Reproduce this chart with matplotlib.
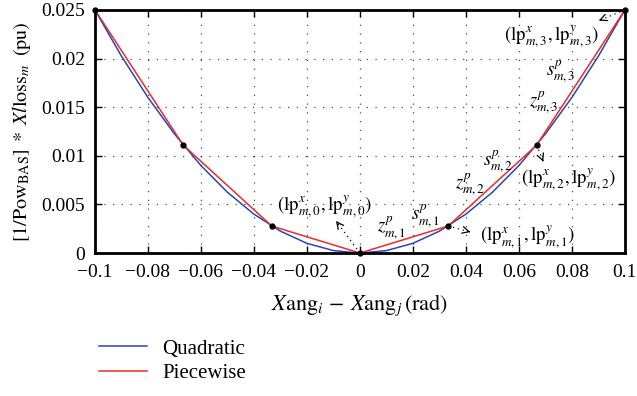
import matplotlib
matplotlib.use('Agg')
import matplotlib.pyplot as plt

# 数値データ
x_quad = [-0.1, -0.09, -0.08, -0.07, -0.06, -0.05, -0.04, -0.03, -0.02, -0.01, 0.0,
          0.01, 0.02, 0.03, 0.04, 0.05, 0.06, 0.07, 0.08, 0.09, 0.1]
y_quad = [0.025, 0.02025, 0.016, 0.01225, 0.009, 0.00625, 0.004, 0.00225, 0.001, 0.00025, 0.0,
          0.00025, 0.001, 0.00225, 0.004, 0.00625, 0.009, 0.01225, 0.016, 0.02025, 0.025]

x_pw = [-0.1, -0.0667, -0.0333, 0.0, 0.0333, 0.0667, 0.1]
y_pw = [0.025, 0.0111, 0.00278, 0.0, 0.00278, 0.0111, 0.025]

x_ticks = [-0.1, -0.08, -0.06, -0.04, -0.02, 0, 0.02, 0.04, 0.06, 0.08, 0.1]
x_ticklabels = ['\u22120.1', '\u22120.08', '\u22120.06', '\u22120.04', '\u22120.02', '0',
                '0.02', '0.04', '0.06', '0.08', '0.1']
y_ticks = [0, 0.005, 0.01, 0.015, 0.02, 0.025]
y_ticklabels = ['0', '0.005', '0.01', '0.015', '0.02', '0.025']

plt.rcParams['font.family'] = 'serif'
plt.rcParams['font.serif'] = ['Liberation Serif', 'DejaVu Serif']
plt.rcParams['mathtext.fontset'] = 'stix'

fig = plt.figure(figsize=(6.37, 3.96), dpi=100)
ax = fig.add_axes([0.149, 0.361, 0.832, 0.614])

ax.plot(x_quad, y_quad, color='#2a45b8', lw=1.1, label='Quadratic')
ax.plot(x_pw, y_pw, color='#ee2a2a', lw=1.1, label='Piecewise')
ax.plot(x_pw, y_pw, 'o', color='black', ms=3.5, zorder=5, clip_on=False)

ax.set_xlim(-0.1, 0.1)
ax.set_ylim(0, 0.025)
ax.set_xticks(x_ticks)
ax.set_xticklabels(x_ticklabels)
ax.set_yticks(y_ticks)
ax.set_yticklabels(y_ticklabels)
ax.tick_params(direction='in', length=5, width=1.0, labelsize=14, top=True, right=True)
ax.tick_params(axis='x', pad=8)
ax.tick_params(axis='y', pad=7)
for s in ax.spines.values():
    s.set_linewidth(2.0)
ax.grid(True, color='black', linestyle=(0, (1, 6)), linewidth=0.9, alpha=0.7)

ax.set_xlabel(r'$X\mathrm{ang}_{i}\,-\,X\mathrm{ang}_{j}\,\mathrm{(rad)}$', fontsize=16, labelpad=8)
ax.set_ylabel(r'$[1/\mathrm{Pow}_{\mathrm{BAS}}]\;*\;Xl\mathrm{loss}_{m}\;\;\mathrm{(pu)}$',
              fontsize=14.5, labelpad=6)

# 注釈
fs = 13.5
labels = [
    (r'$(\mathrm{lp}^{x}_{m,0},\mathrm{lp}^{y}_{m,0})$', -0.0132, 0.0047),
    (r'$(\mathrm{lp}^{x}_{m,1},\mathrm{lp}^{y}_{m,1})$', 0.0632, 0.00165),
    (r'$(\mathrm{lp}^{x}_{m,2},\mathrm{lp}^{y}_{m,2})$', 0.0786, 0.0075),
    (r'$(\mathrm{lp}^{x}_{m,3},\mathrm{lp}^{y}_{m,3})$', 0.0722, 0.0222),
    (r'$z^{p}_{m,1}$', 0.0120, 0.0026),
    (r'$s^{p}_{m,1}$', 0.0248, 0.0038),
    (r'$z^{p}_{m,2}$', 0.0417, 0.0070),
    (r'$s^{p}_{m,2}$', 0.0522, 0.0094),
    (r'$z^{p}_{m,3}$', 0.0695, 0.0154),
    (r'$s^{p}_{m,3}$', 0.0759, 0.0186),
]
for txt, tx, ty in labels:
    ax.text(tx, ty, txt, fontsize=fs, ha='center', va='center')

arrows = [
    ((0.0, 0.0), (-0.0090, 0.0033)),
    ((0.0333, 0.00278), (0.0417, 0.00216)),
    ((0.0667, 0.0111), (0.0692, 0.0094)),
    ((0.1, 0.025), (0.0902, 0.0239)),
]
for (px, py), (hx, hy) in arrows:
    ax.plot([px, hx], [py, hy], color='black', linestyle=(0, (1, 3)), lw=0.9)
    ax.annotate('', xy=(hx, hy), xytext=(hx + (px - hx) * 0.05, hy + (py - hy) * 0.05),
                arrowprops=dict(arrowstyle='->', color='black', lw=0.9,
                                mutation_scale=12, shrinkA=0, shrinkB=0))

fig.legend(loc='upper left', bbox_to_anchor=(0.143, 0.165), frameon=False, fontsize=15,
           handlelength=2.3, handletextpad=0.7, labelspacing=0.25, borderaxespad=0)

fig.savefig('out.png', dpi=100)
